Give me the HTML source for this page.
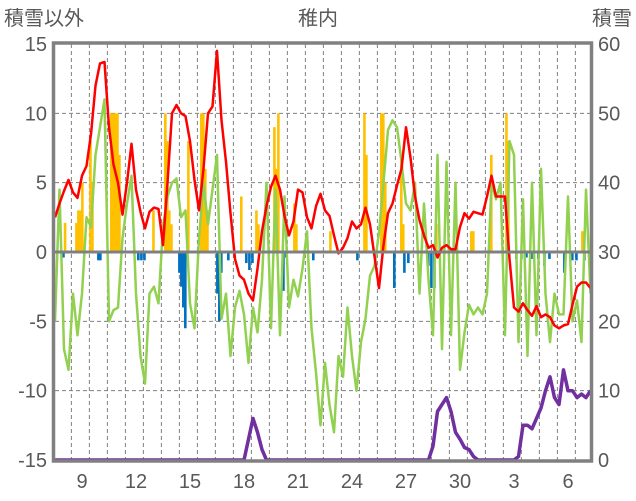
<!DOCTYPE html>
<html><head><meta charset="utf-8"><style>
body{margin:0;background:#fff;width:636px;height:501px;overflow:hidden}
svg{display:block;font-family:"Liberation Sans","Noto Sans CJK JP",sans-serif}
</style></head><body>
<svg id="chart" width="636" height="501"></svg>
<script>
const seriesStartDay = 0;
const seriesStepDays = 0.25;
const redVals = [2.5,3.5,4.4,5.2,4.3,3.9,5.5,6.2,8.5,12,13.6,13.7,9,6.3,5,2.7,5,7.8,4.5,2.9,1.7,2.9,3.2,3.1,0.5,5,10,10.6,10,9.8,8,5.2,3,6,10,10.5,14.5,9.5,6.5,2.8,-0.5,-1.7,-2,-3,-3.5,-1.2,1.5,3.3,4.7,5.5,4.5,2.6,1.2,2.2,4.5,4.3,2.5,1.7,3.3,4.2,3,2.6,1.2,-0.1,0.3,1,2.2,1.7,2,3.2,2,-0.3,-2.6,0.5,2.8,3.5,4.8,6,9,6.8,4,2.3,1.2,0.3,0.5,-0.4,0.3,0.5,0.2,0.2,1.8,2.8,2.4,2.9,2.8,2.7,4,5.5,4,4,4,-0.5,-4,-4.3,-3.7,-4.2,-4.6,-3.9,-4.7,-4.5,-4.7,-5.3,-5.5,-5.3,-5.2,-3.8,-2.5,-2.2,-2.2,-2.6];
const greenVals = [-5,4.5,-7,-8.5,-3,-6,-3,2.5,1.8,7,9,11,-5,-4.2,-4,1,3.5,5.5,-3,-7.5,-9.5,-3,-2.5,-3.7,1.8,4,5,5.3,2.5,3,-3.7,-5.5,1,5,2,4.5,7,-4.8,-3,-7.5,-4,-2.8,-4.5,-8,-4,-5.8,-2,5,-5.5,4.5,-6,4,-4,-2,-3.2,-1.2,1.5,-5.5,-8.7,-12.5,-8,-11,-13,-7.5,-9,-4,-7.5,-10,-6.5,-4.8,-1.7,-1,1.4,5,8.8,9.5,9,6.5,3.5,3,5,-3,3.5,-2,-6,7,-7,6.5,-6,5,-8.5,-5.8,-3.8,-4.5,-4,-4.5,-3,5,3.8,5,-6,8,7,-6.5,3.8,-7.5,5,-6,6,-3,-6.5,-3,-4.5,-4.5,4,-5,-3.5,-6.5,4.5,-3];
const snowVals = [0,0,0,0,0,0,0,0,0,0,0,0,0,0,0,0,0,0,0,0,0,0,0,0,0,0,0,0,0,0,0,0,0,0,0,0,0,0,0,0,0,0,0,3,6,4,1.5,0,0,0,0,0,0,0,0,0,0,0,0,0,0,0,0,0,0,0,0,0,0,0,0,0,0,0,0,0,0,0,0,0,0,0,0,0,2,7,8,9,7,4,3,1.8,1.5,0.5,0,0,0,0,0,0,0,0,0,0.5,5,5,4.5,6,7.5,10,12,9,8,13,10,10,9,9.5,9,10];
const barDays = [0.65,1.28,1.39,1.5,1.61,2.06,2.17,3.22,3.33,3.44,3.56,3.67,5.56,6.22,6.33,6.44,6.56,7.5,8.22,8.33,8.44,8.56,10.44,11.28,11.39,12.28,12.39,12.5,13.39,13.5,15.39,17.28,17.39,18.22,18.33,18.44,19.33,19.44,21.28,23.22,23.33,24.33,25.17,25.28,29.39,
0.56,2.5,2.61,4.72,4.89,5.06,7,7.11,7.22,7.33,9.11,9.22,9.33,9.72,10.72,10.89,11.06,12.78,12.94,14.44,16.89,18.94,19.5,19.72,20.83,21,21.17,25.72,26,26.28,26.56,26.94,27.28,27.56,28.39,28.83,29.06,29.5];
const barVals = [2.1,2.1,3,3,5,8,5,10,10,10,10,7,3,10,8,3,2,8,10,10,6,3,4,3,2,9,6,10,3.5,2,1.5,10,7,10,10,5,6.6,2,2,1.5,1.5,7,10,8,1.5,
-0.4,-0.6,-0.6,-0.6,-0.6,-0.6,-1.5,-2.5,-4,-5.5,-3,-5,-1.5,-0.6,-0.8,-1.3,-0.8,-2.8,-0.4,-0.6,-0.6,-2.6,-1.5,-0.8,-1,-2.6,-2.6,-0.5,-0.5,-0.4,-0.5,-0.5,-1,-0.5,-1.5,-0.6,-0.6,-0.6];
const leftTicks = [15,10,5,0,-5,-10,-15];
const rightTicks = [60,50,40,30,20,10,0];
const xTickLabels = ["9","12","15","18","21","24","27","30","3","6"];
const xTickDays = [1.5,4.5,7.5,10.5,13.5,16.5,19.5,22.5,25.5,28.5];

const X0=55, X1=590, Y0=44, Y1=460, PXD=18;
const xs = d => X0 + (d - 0.09) * PXD;
const yL = v => Y1 - (v + 15) / 30 * (Y1 - Y0);
const yR = v => Y1 - v / 60 * (Y1 - Y0);
const NS='http://www.w3.org/2000/svg';
const svg=document.getElementById('chart');
function mk(tag, attrs, parent){const e=document.createElementNS(NS,tag);for(const k in attrs)e.setAttribute(k,attrs[k]);(parent||svg).appendChild(e);return e;}

// grid
const grid=mk('g',{});


[10,5,-5,-10].forEach(v=>{mk('line',{x1:X0,x2:X1,y1:yL(v),y2:yL(v),stroke:'#808080','stroke-width':1,'stroke-dasharray':'4,3'},grid);});
for(let d=1; xs(d)<X1-2; d++){mk('line',{x1:xs(d),x2:xs(d),y1:Y0,y2:Y1,stroke:'#808080','stroke-width':1,'stroke-dasharray':'4,3'},grid);}

// bars
const bars=mk('g',{});


barDays.forEach((d,i)=>{
  const v=barVals[i], y=Math.min(yL(0),yL(v)), h=Math.abs(yL(v)-yL(0));
  const r=mk('rect',{x:xs(d)-1.3,y:y,width:2.6,height:h,fill:v>=0?'#FFC000':'#0070C0'},bars);
  
  
});

function line(vals, yf, color, w, name){
  const pts=vals.map((v,i)=>xs(seriesStartDay+i*seriesStepDays+0.09).toFixed(1)+','+yf(v).toFixed(1)).join(' ');
  const p=mk('polyline',{points:pts,fill:'none',stroke:color,'stroke-width':w,'stroke-linejoin':'round'});
  
  
}
line(greenVals,yL,'#92D050',2.5,'green-series-line');
line(redVals,yL,'#FF0000',2.5,'temperature-line');

// zero line
const z=mk('line',{x1:X0,x2:X1,y1:yL(0),y2:yL(0),stroke:'#808080','stroke-width':3});



line(snowVals,yR,'#7030A0',3.5,'snow-depth-line');

// frame
const f=mk('rect',{x:53.5,y:43,width:538,height:418,fill:'none',stroke:'#808080','stroke-width':3.5});



const tstyle={fill:'#595959','font-size':20};
leftTicks.forEach(v=>{const t=mk('text',Object.assign({x:47,y:yL(v)+7,'text-anchor':'end'},tstyle));t.textContent=v;
  });
rightTicks.forEach(v=>{const t=mk('text',Object.assign({x:598,y:yR(v)+7,'text-anchor':'start'},tstyle));t.textContent=v;
  });
xTickLabels.forEach((s,i)=>{const t=mk('text',Object.assign({x:xs(xTickDays[i]+0.09),y:488,'text-anchor':'middle'},tstyle));t.textContent=s;
  });
</script>
<svg width="636" height="40" style="position:absolute;left:0;top:0;font-family:'Liberation Sans','Noto Sans CJK JP',sans-serif">
<text x="4" y="25" font-size="20" fill="#595959">積雪以外</text>
<text x="318" y="25" font-size="20" fill="#595959" text-anchor="middle">稚内</text>
<text x="632" y="25" font-size="20" fill="#595959" text-anchor="end">積雪</text>
</svg>
</body></html>
